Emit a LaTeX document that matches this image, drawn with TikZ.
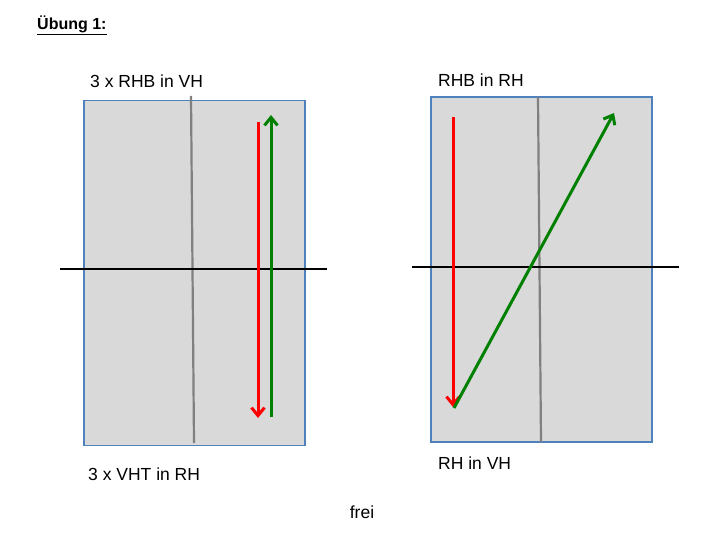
\documentclass[tikz,border=0pt]{standalone}
\usepackage{fontspec}
\setmainfont{Liberation Sans}
\usetikzlibrary{arrows.meta}

\definecolor{panelblue}{HTML}{4F81BD}
\definecolor{panelgray}{HTML}{D9D9D9}
\definecolor{arrgreen}{HTML}{008000}

\begin{document}
\begin{tikzpicture}[x=1pt, y=-1pt,
  font=\fontsize{17.5}{21}\selectfont,
  panel/.style={rectangle, draw=panelblue, line width=1.6pt, fill=panelgray,
                minimum width=221pt, minimum height=345pt, inner sep=0pt},
  label/.style={anchor=west, inner sep=0pt},
  axis/.style={draw=black, line width=2.4pt},
  mid/.style={draw=black!50, line width=2.2pt},
  arr/.style={-{Straight Barb[length=8pt, width=13pt]}, line width=3pt},
  redarr/.style={arr, draw=red},
  greenarr/.style={arr, draw=arrgreen}
]
\useasboundingbox (0,0) rectangle (720,540);

% heading
\node[label, font=\fontsize{16}{19}\selectfont\bfseries] (title) at (37,25) {\underline{Übung 1:}};

% left panel
\node[panel] (lbox) at (194.5,273) {};
\node[label] (ltop) at (90,81) {3 x RHB in VH};
\node[label] (lbot) at (88,474) {3 x VHT in RH};

\coordinate (lmidt) at (191,96);
\coordinate (lmidb) at (194,443);
\coordinate (laxl)  at (60,269);
\coordinate (laxr)  at (327,269);
\draw[mid]  (lmidt) -- (lmidb);
\draw[axis] (laxl) -- (laxr);

\coordinate (lr1) at (258,122);
\coordinate (lr2) at (258,418);
\coordinate (lg1) at (271,417);
\coordinate (lg2) at (271,115);
\draw[redarr]   (lr1) -- (lr2);
\draw[greenarr] (lg1) -- (lg2);

% right panel
\node[panel] (rbox) at (541.5,269.5) {};
\node[label] (rtop) at (438,80) {RHB in RH};
\node[label] (rbot) at (438,463) {RH in VH};

\coordinate (rmidt) at (538,97);
\coordinate (rmidb) at (541,442);
\coordinate (raxl)  at (412,267);
\coordinate (raxr)  at (679,267);
\draw[mid]  (rmidt) -- (rmidb);
\draw[axis] (raxl) -- (raxr);

\coordinate (rr1) at (453,117);
\coordinate (rr2) at (453,407);
\coordinate (rg1) at (454,408);
\coordinate (rg2) at (614,113);
\draw[redarr]   (rr1) -- (rr2);
\draw[greenarr] (rg1) -- (rg2);

% bottom note
\node (free) at (362,512) {frei};
\end{tikzpicture}
\end{document}
